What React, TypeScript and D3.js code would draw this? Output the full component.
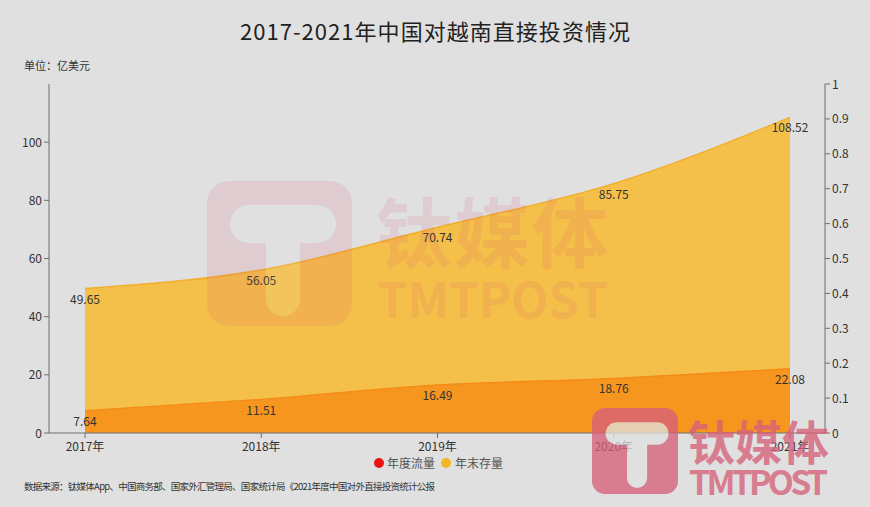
import React from "react";
import * as d3 from "d3";

const categories = ["2017年", "2018年", "2019年", "2020年", "2021年"];
const flowValues = [7.64, 11.51, 16.49, 18.76, 22.08];
const stockValues = [49.65, 56.05, 70.74, 85.75, 108.52];
const leftTicks = [0, 20, 40, 60, 80, 100];
const rightTicks = [0, 0.1, 0.2, 0.3, 0.4, 0.5, 0.6, 0.7, 0.8, 0.9, 1];
const seriesNames = ["年度流量", "年末存量"];

const W = 870;
const H = 507;
const FONT = "'Noto Sans CJK SC', 'Noto Sans', sans-serif";

export default function App() {
  const left = 49;
  const right = 825;
  const top = 84;
  const bottom = 433;

  const x = d3.scalePoint<string>().domain(categories).range([85, 790]);
  const y = d3.scaleLinear().domain([0, 120]).range([bottom, top]);
  const yR = d3.scaleLinear().domain([0, 1]).range([bottom, top]);

  const area = d3
    .area<number>()
    .x((_, i) => x(categories[i]) as number)
    .y0(bottom)
    .y1((d) => y(d))
    .curve(d3.curveMonotoneX);
  const line = d3
    .line<number>()
    .x((_, i) => x(categories[i]) as number)
    .y((d) => y(d))
    .curve(d3.curveMonotoneX);

  const axisColor = "#6e6e6e";
  const textColor = "#333";

  const logo = (x0: number, y0: number, s: number, color: string, op: number) => {
    const k = s / 145;
    return (
      <g opacity={op}>
        <rect x={x0} y={y0} width={s} height={s} rx={22 * k} fill={color} />
        <path
          d={`M ${x0 + 23 * k} ${y0 + 43 * k}
              a ${19 * k} ${19 * k} 0 0 1 ${19 * k} ${-19 * k}
              L ${x0 + 110 * k} ${y0 + 24 * k}
              a ${19 * k} ${19 * k} 0 0 1 0 ${38 * k}
              L ${x0 + 93 * k} ${y0 + 62 * k}
              L ${x0 + 93 * k} ${y0 + 118 * k}
              a ${17 * k} ${17 * k} 0 0 1 ${-34 * k} 0
              L ${x0 + 59 * k} ${y0 + 62 * k}
              L ${x0 + 42 * k} ${y0 + 62 * k}
              a ${19 * k} ${19 * k} 0 0 1 ${-19 * k} ${-19 * k} Z`}
          fill="#e0e0e0"
        />
      </g>
    );
  };

  return (
    <svg
      width={W}
      height={H}
      style={{ position: "absolute", left: 0, top: 0, display: "block" }}
      fontFamily={FONT}
    >
      <rect x={0} y={0} width={W} height={H} fill="#e0e0e0" />
      <text x={435} y={40} textAnchor="middle" fontSize={22} fill="#222" textLength={390}>
        2017-2021年中国对越南直接投资情况
      </text>
      <text x={24} y={70} fontSize={11} fill={textColor}>
        单位：亿美元
      </text>

      {/* areas */}
      <path d={area(stockValues) || ""} fill="#f5c04a" />
      <path d={line(stockValues) || ""} fill="none" stroke="#f2ae2a" strokeWidth={1.5} />
      <path d={area(flowValues) || ""} fill="#f7961e" />
      <path d={line(flowValues) || ""} fill="none" stroke="#f48c1a" strokeWidth={1.5} />

      {/* labels */}
      {stockValues.map((v, i) => (
        <text
          key={"s" + i}
          x={x(categories[i]) as number}
          y={y(v) + 15}
          textAnchor="middle"
          fontSize={12}
          fill={textColor}
        >
          {v.toFixed(2)}
        </text>
      ))}
      {flowValues.map((v, i) => (
        <text
          key={"f" + i}
          x={x(categories[i]) as number}
          y={y(v) + 15}
          textAnchor="middle"
          fontSize={12}
          fill={textColor}
        >
          {v.toFixed(2)}
        </text>
      ))}

      {/* left axis */}
      <line x1={left} x2={left} y1={top} y2={bottom} stroke={axisColor} />
      {leftTicks.map((t) => (
        <g key={"l" + t}>
          <line x1={left - 5} x2={left} y1={y(t)} y2={y(t)} stroke={axisColor} />
          <text x={left - 7} y={y(t) + 4.5} textAnchor="end" fontSize={12} fill={textColor}>
            {t}
          </text>
        </g>
      ))}
      {/* right axis */}
      <line x1={right} x2={right} y1={top} y2={bottom} stroke={axisColor} />
      {rightTicks.map((t) => (
        <g key={"r" + t}>
          <line x1={right} x2={right + 5} y1={yR(t)} y2={yR(t)} stroke={axisColor} />
          <text x={right + 7} y={yR(t) + 4.5} textAnchor="start" fontSize={12} fill={textColor}>
            {t}
          </text>
        </g>
      ))}
      {/* x axis */}
      <line x1={left} x2={right} y1={bottom} y2={bottom} stroke={axisColor} />
      {categories.map((c) => (
        <g key={c}>
          <line x1={x(c) as number} x2={x(c) as number} y1={bottom} y2={bottom + 5} stroke={axisColor} />
          <text x={x(c) as number} y={bottom + 18} textAnchor="middle" fontSize={12} fill={textColor}>
            {c}
          </text>
        </g>
      ))}

      {/* legend */}
      <circle cx={379} cy={463} r={5} fill="#e8140f" />
      <text x={387} y={467.5} fontSize={12} fill="#555">
        {seriesNames[0]}
      </text>
      <circle cx={446} cy={463} r={5} fill="#f5b623" />
      <text x={455} y={467.5} fontSize={12} fill="#555">
        {seriesNames[1]}
      </text>

      <text x={24} y={490} fontSize={9.5} fill={textColor} textLength={411}>
        数据来源：钛媒体App、中国商务部、国家外汇管理局、国家统计局《2021年度中国对外直接投资统计公报
      </text>

      {/* watermarks */}
      {logo(207, 181, 145, "#d4506e", 0.13)}
      <g opacity={0.13} fill="#d4506e" fontWeight="bold">
        <text x={376} y={262} fontSize={76} textLength={232}>钛媒体</text>
        <text x={377} y={318} fontSize={49} textLength={231}>TMTPOST</text>
      </g>
      {logo(592, 408, 86, "#d7607a", 0.78)}
      <g opacity={0.78} fill="#d7607a" fontWeight="bold">
        <text x={688} y={460} fontSize={47} textLength={141}>钛媒体</text>
        <text x={689} y={495} fontSize={34} textLength={139}>TMTPOST</text>
      </g>
    </svg>
  );
}
